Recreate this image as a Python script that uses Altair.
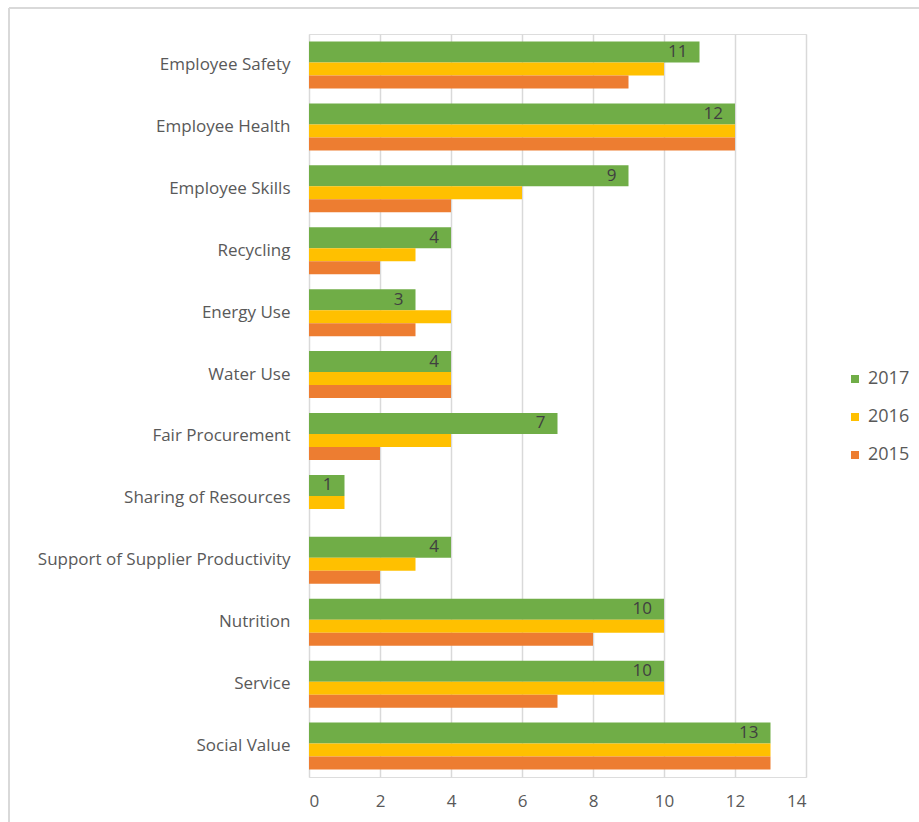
import altair as alt
import pandas as pd

categories = [
    "Employee Safety", "Employee Health", "Employee Skills", "Recycling",
    "Energy Use", "Water Use", "Fair Procurement", "Sharing of Resources",
    "Support of Supplier Productivity", "Nutrition", "Service", "Social Value",
]
years = ["2017", "2016", "2015"]
values_2017 = [11, 12, 9, 4, 3, 4, 7, 1, 4, 10, 10, 13]
values_2016 = [10, 12, 6, 3, 4, 4, 4, 1, 3, 10, 10, 13]
values_2015 = [9, 12, 4, 2, 3, 4, 2, 0, 2, 8, 7, 13]
colors = ["#70ad47", "#ffc000", "#ed7d31"]
x_ticks = [0, 2, 4, 6, 8, 10, 12, 14]

series = {"2017": values_2017, "2016": values_2016, "2015": values_2015}
rows = []
for yr in years:
    for c, v in zip(categories, series[yr]):
        rows.append({"category": c, "year": yr, "value": v})
df = pd.DataFrame(rows)

FONT = "Open Sans"
W, H = 497, 743
PAD_L, PAD_T = 309, 34

# bar thickness / offset within each category band (style)
bar_style = {"2017": (21, -13), "2016": (13, 4), "2015": (13, 17)}

x_enc = alt.X(
    "value:Q",
    scale=alt.Scale(domain=[0, 14], nice=False),
    axis=alt.Axis(values=x_ticks, grid=True, gridColor="#d9d9d9", gridWidth=1.5,
                  domain=False, ticks=False, labelFontSize=17, labelColor="#595959",
                  labelPadding=16, labelFont=FONT, title=None),
)
y_enc = alt.Y(
    "category:N",
    sort=categories,
    scale=alt.Scale(paddingInner=0.24, paddingOuter=0.12),
    axis=alt.Axis(domain=False, ticks=False, grid=False, labelFontSize=17,
                  labelColor="#595959", labelPadding=19, labelFont=FONT,
                  labelLimit=400, title=None),
)
color_enc = alt.Color(
    "year:N",
    scale=alt.Scale(domain=years, range=colors),
    legend=alt.Legend(title=None, orient="none", legendX=537, legendY=336,
                      symbolType="square", symbolSize=64, symbolStrokeWidth=0,
                      labelFontSize=18, labelColor="#595959", labelFont=FONT,
                      rowPadding=20, labelOffset=4),
)

layers = []
for yr in years:
    size, off = bar_style[yr]
    layers.append(
        alt.Chart(df).transform_filter(alt.datum.year == yr)
        .mark_bar(size=size, yOffset=off)
        .encode(x=x_enc, y=y_enc, color=color_enc)
    )

labels = (
    alt.Chart(df).transform_filter(alt.datum.year == "2017")
    .mark_text(align="right", baseline="middle", dx=-12, yOffset=-13,
               fontSize=17, color="#404040", font=FONT)
    .encode(x=alt.X("value:Q"), y=alt.Y("category:N", sort=categories), text="value:Q")
)

frame_data = alt.Data(values=[{}])
frame_top = alt.Chart(frame_data).mark_rule(color="#d9d9d9", strokeWidth=2).encode(
    x=alt.value(-PAD_L + 9), x2=alt.value(919 - PAD_L), y=alt.value(-PAD_T + 8))
frame_left = alt.Chart(frame_data).mark_rule(color="#d9d9d9", strokeWidth=2).encode(
    x=alt.value(-PAD_L + 9), y=alt.value(-PAD_T + 8), y2=alt.value(822 - PAD_T))

chart = alt.layer(*layers, labels, frame_top, frame_left).properties(
    width=W, height=H,
    autosize=alt.AutoSizeParams(type="none"),
    padding={"left": PAD_L, "top": PAD_T, "right": 919 - PAD_L - W, "bottom": 822 - PAD_T - H},
).configure_view(stroke=None).configure(background="white")

chart.save("out.html", embed_options={"renderer": "svg", "actions": False})
